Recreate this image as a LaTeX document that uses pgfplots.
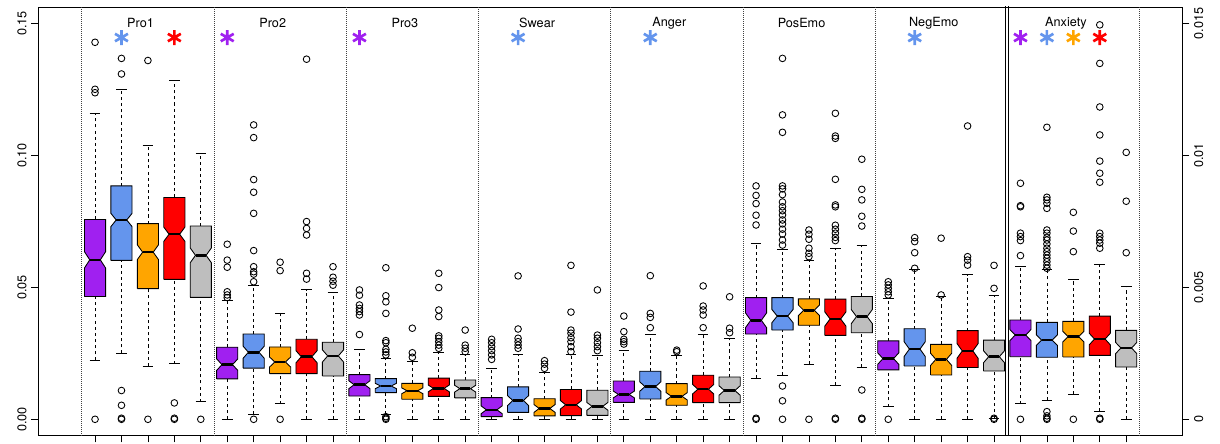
\documentclass[border=0pt]{standalone}
\usepackage{fontspec}
\setmainfont{TeX Gyre Heros}
\usepackage{pgfplots}
\pgfplotsset{compat=1.18}
\definecolor{cpur}{HTML}{A020F0}
\definecolor{cblu}{HTML}{6495ED}
\definecolor{cora}{HTML}{FFA500}
\definecolor{cred}{HTML}{FF0000}
\definecolor{cgry}{HTML}{BEBEBE}
\pgfplotsset{
  whisk/.style={black, solid, dash pattern=on 2.3pt off 2.3pt, line width=0.6pt, mark=none},
  cap/.style={black, solid, line width=0.65pt, mark=none},
  boxs/.style={draw=black, solid, line width=0.65pt, mark=none},
  med/.style={black, solid, line width=1.9pt, mark=none},
  outl/.style={only marks, mark=o, mark size=2.5pt, mark options={black, solid, line width=0.65pt}},
  sep/.style={black!75, densely dotted, line width=0.5pt, mark=none},
  star/.style={only marks, mark=asterisk, mark size=5.6pt, mark options={#1, solid, line width=2pt}},
}
% \nbox{position}{colour}{lower whisker}{q1}{median}{q3}{upper whisker}{notch half-height}{outliers}
\newcommand{\nbox}[9]{%
  \pgfmathsetmacro\xa{#1-0.4}%
  \pgfmathsetmacro\xb{#1+0.4}%
  \pgfmathsetmacro\xc{#1-0.2}%
  \pgfmathsetmacro\xd{#1+0.2}%
  \pgfmathsetmacro\ya{#5-#8}%
  \pgfmathsetmacro\yb{#5+#8}%
  \addplot[whisk] coordinates {(#1,#6) (#1,#7)};
  \addplot[whisk] coordinates {(#1,#3) (#1,#4)};
  \addplot[cap] coordinates {(\xc,#7) (\xd,#7)};
  \addplot[cap] coordinates {(\xc,#3) (\xd,#3)};
  \addplot[boxs, fill=#2] coordinates {(\xa,#4) (\xb,#4) (\xb,\ya) (\xd,#5) (\xb,\yb) (\xb,#6) (\xa,#6) (\xa,\yb) (\xc,#5) (\xa,\ya) (\xa,#4)};
  \addplot[med] coordinates {(\xc,#5) (\xd,#5)};
  \addplot[outl] table[x expr=#1, y index=0, row sep=\\] {#9};
}
\begin{document}
\begin{tikzpicture}
\begin{axis}[
  scale only axis, width=857.6pt, height=321pt,
  xmin=-1.137, xmax=42.11, ymin=-0.00595, ymax=0.15617,
  xtick={1,...,40}, xticklabels={}, xtick pos=left,
  ytick={0,0.05,0.10,0.15}, yticklabels={0.00,0.05,0.10,0.15}, ytick pos=left,
  scaled y ticks=false,
  tick align=outside, major tick length=5.5pt,
  tick style={black, line width=0.6pt},
  axis line style={black, line width=0.7pt},
  yticklabel style={rotate=90, anchor=south, font=\fontsize{9.5}{11}\selectfont},
]
\coordinate (SW) at (rel axis cs:0,0);
\coordinate (NE) at (rel axis cs:1,1);
% separators
\pgfplotsinvokeforeach{0.5,5.5,10.5,15.5,20.5,25.5,30.5,40.5}{\addplot[sep] coordinates {(#1,-0.01) (#1,0.16)};}
\addplot[black, line width=0.5pt, mark=none] coordinates {(35.44,-0.01) (35.44,0.16)};
\addplot[black, line width=0.5pt, mark=none] coordinates {(35.56,-0.01) (35.56,0.16)};
% Pro1
\nbox{1}{cpur}{0.0223}{0.0465}{0.0604}{0.0757}{0.1159}{0.0031}{0.1428\\0.1250\\0.1237\\0\\}
\nbox{2}{cblu}{0.0249}{0.0602}{0.0755}{0.0884}{0.1251}{0.0025}{0.1367\\0.1308\\0.0109\\0.0053\\0\\0.0004\\}
\nbox{3}{cora}{0.0202}{0.0495}{0.0633}{0.0741}{0.1038}{0.0028}{0.1359\\0\\}
\nbox{4}{cred}{0.0211}{0.0530}{0.0701}{0.0840}{0.1285}{0.0027}{0.0062\\0\\0.0004\\}
\nbox{5}{cgry}{0.0066}{0.0462}{0.0621}{0.0732}{0.1006}{0.0028}{0\\}
% Pro2
\nbox{6}{cpur}{0}{0.0153}{0.0207}{0.0273}{0.0452}{0.0022}{0.0663\\0.0603\\0.0576\\0.0483\\0.0471\\0.0461\\}
\nbox{7}{cblu}{0.0018}{0.0194}{0.0254}{0.0323}{0.0508}{0.0023}{0.1115\\0.1067\\0.0908\\0.0860\\0.0780\\0.0639\\0.0578\\0.0559\\0.0550\\0.0521\\0\\}
\nbox{8}{cora}{0.0059}{0.0173}{0.0217}{0.0274}{0.0401}{0.0019}{0.0595\\0.0563\\0\\}
\nbox{9}{cred}{0}{0.0173}{0.0237}{0.0303}{0.0490}{0.0023}{0.1364\\0.0749\\0.0723\\0.0698\\0.0553\\0.0531\\}
\nbox{10}{cgry}{0}{0.0164}{0.0240}{0.0292}{0.0482}{0.0023}{0.0578\\0.0538\\0.0523\\0.0508\\}
% Pro3
\nbox{11}{cpur}{0}{0.0088}{0.0131}{0.0169}{0.0265}{0.0015}{0.0490\\0.0470\\0.0433\\0.0420\\0.0408\\0.0395\\0.0321\\}
\nbox{12}{cblu}{0.0020}{0.0101}{0.0126}{0.0154}{0.0230}{0.0010}{0.0574\\0.0468\\0.0445\\0.0401\\0.0298\\0.0290\\0.0265\\0.0255\\0.0244\\0.0010\\0.0004\\0\\}
\nbox{13}{cora}{0}{0.0076}{0.0108}{0.0136}{0.0221}{0.0011}{0.0345\\0.0252\\0.0235\\}
\nbox{14}{cred}{0}{0.0087}{0.0117}{0.0156}{0.0254}{0.0013}{0.0553\\0.0499\\0.0414\\0.0389\\0.0316\\0.0307\\0.0294\\0.0281\\0.0269\\}
\nbox{15}{cgry}{0}{0.0081}{0.0116}{0.0149}{0.0244}{0.0013}{0.0338\\0.0281\\0.0269\\0.0256\\}
% Swear
\nbox{16}{cpur}{0}{0.0010}{0.0036}{0.0082}{0.0191}{0.0015}{0.0303\\0.0290\\0.0275\\0.0260\\0.0244\\0.0227\\}
\nbox{17}{cblu}{0}{0.0026}{0.0071}{0.0123}{0.0246}{0.0019}{0.0543\\0.0342\\0.0307\\0.0294\\0.0281\\0.0269\\}
\nbox{18}{cora}{0}{0.0013}{0.0041}{0.0078}{0.0177}{0.0015}{0.0222\\0.0209\\0.0193\\}
\nbox{19}{cred}{0}{0.0014}{0.0055}{0.0113}{0.0244}{0.0016}{0.0583\\0.0406\\0.0338\\0.0326\\0.0309\\0.0294\\0.0275\\0.0256\\}
\nbox{20}{cgry}{0}{0.0015}{0.0049}{0.0110}{0.0242}{0.0015}{0.0490\\0.0319\\0.0307\\0.0290\\0.0275\\0.0260\\}
% Anger
\nbox{21}{cpur}{0}{0.0064}{0.0094}{0.0145}{0.0262}{0.0013}{0.0391\\0.0332\\0.0303\\0.0294\\0.0285\\}
\nbox{22}{cblu}{0}{0.0077}{0.0124}{0.0182}{0.0322}{0.0018}{0.0544\\0.0401\\0.0386\\0.0347\\}
\nbox{23}{cora}{0}{0.0053}{0.0087}{0.0135}{0.0242}{0.0014}{0.0262\\0.0256\\}
\nbox{24}{cred}{0}{0.0063}{0.0114}{0.0167}{0.0322}{0.0018}{0.0505\\0.0429\\0.0414\\0.0395\\0.0347\\}
\nbox{25}{cgry}{0}{0.0063}{0.0109}{0.0160}{0.0307}{0.0018}{0.0464\\0.0345\\0.0328\\}
% PosEmo
\nbox{26}{cpur}{0.0155}{0.0323}{0.0375}{0.0461}{0.0667}{0.0028}{0.0884\\0.0848\\0.0817\\0.0773\\0.0736\\0\\0.0004\\}
\nbox{27}{cblu}{0.0168}{0.0338}{0.0391}{0.0461}{0.0645}{0.0025}{0.1367\\0.1153\\0.1087\\0.0884\\0.0873\\0.0851\\0.0823\\0.0805\\0.0790\\0.0774\\0.0755\\0.0740\\0.0720\\0.0702\\0.0679\\0.0660\\0.0126\\0.0070\\0\\}
\nbox{28}{cora}{0.0209}{0.0356}{0.0413}{0.0456}{0.0602}{0.0020}{0.0717\\0.0701\\0.0682\\0.0648\\0.0629\\0.0616\\0\\}
\nbox{29}{cred}{0.0129}{0.0318}{0.0380}{0.0455}{0.0648}{0.0027}{0.1159\\0.1073\\0.1064\\0.0909\\0.0812\\0.0805\\0.0735\\0.0720\\0.0705\\0.0689\\0.0677\\0\\0.0004\\}
\nbox{30}{cgry}{0.0197}{0.0328}{0.0389}{0.0465}{0.0657}{0.0027}{0.0985\\0.0871\\0.0831\\0.0769\\0.0732\\0.0111\\0\\0.0004\\}
% NegEmo
\nbox{31}{cpur}{0.0048}{0.0187}{0.0230}{0.0297}{0.0457}{0.0022}{0.0521\\0.0509\\0.0496\\0.0483\\0.0471\\0\\}
\nbox{32}{cblu}{0}{0.0202}{0.0266}{0.0343}{0.0569}{0.0028}{0.0688\\0.0673\\0.0631\\0.0572\\}
\nbox{33}{cora}{0}{0.0168}{0.0227}{0.0284}{0.0467}{0.0023}{0.0686\\0.0471\\}
\nbox{34}{cred}{0}{0.0196}{0.0259}{0.0336}{0.0547}{0.0028}{0.1111\\0.0616\\0.0603\\0.0584\\}
\nbox{35}{cgry}{0.0004}{0.0183}{0.0237}{0.0300}{0.0468}{0.0023}{0.0583\\0.0496\\0\\0.0004\\}
% Anxiety (drawn on the right-hand scale, x10)
\nbox{36}{cpur}{0.0059}{0.0237}{0.0319}{0.0376}{0.0580}{0.0021}{0.0894\\0.0809\\0.0805\\0.0705\\0.0692\\0.0677\\0.0620\\0\\}
\nbox{37}{cblu}{0.0073}{0.0235}{0.0300}{0.0367}{0.0567}{0.0020}{0.1106\\0.0841\\0.0831\\0.0818\\0.0799\\0.0717\\0.0705\\0.0689\\0.0679\\0.0664\\0.0648\\0.0635\\0.0622\\0.0610\\0.0597\\0.0584\\0.0572\\0.0029\\0.0013\\0\\0.0004\\}
\nbox{38}{cora}{0.0096}{0.0236}{0.0313}{0.0371}{0.0528}{0.0020}{0.0784\\0.0713\\0.0635\\0\\}
\nbox{39}{cred}{0.0030}{0.0242}{0.0304}{0.0391}{0.0587}{0.0022}{0.1494\\0.1348\\0.1183\\0.1077\\0.0978\\0.0932\\0.0898\\0.0705\\0.0692\\0.0679\\0.0667\\0.0648\\0\\0.0004\\}
\nbox{40}{cgry}{0}{0.0198}{0.0270}{0.0337}{0.0505}{0.0021}{0.1011\\0.0826\\0.0631\\}
% significance stars
\addplot[star=cblu] coordinates {(2,0.1446) (17,0.1446) (22,0.1446) (32,0.1446) (37,0.1446)};
\addplot[star=cred] coordinates {(4,0.1446) (39,0.1446)};
\addplot[star=cpur] coordinates {(6,0.1446) (11,0.1446) (36,0.1446)};
\addplot[star=cora] coordinates {(38,0.1446)};
% group labels
\begin{scope}[every node/.style={font=\fontsize{9.5}{11}\selectfont, inner sep=0pt}]
\node at (axis cs:2.72,0.1500) {Pro1};
\node at (axis cs:7.72,0.1500) {Pro2};
\node at (axis cs:12.72,0.1500) {Pro3};
\node at (axis cs:17.72,0.1500) {Swear};
\node at (axis cs:22.72,0.1500) {Anger};
\node at (axis cs:27.72,0.1500) {PosEmo};
\node at (axis cs:32.72,0.1500) {NegEmo};
\node at (axis cs:37.72,0.1500) {Anxiety};
\end{scope}
\end{axis}
\begin{axis}[
  scale only axis, width=857.6pt, height=321pt,
  xmin=-1.137, xmax=42.11, ymin=-0.000595, ymax=0.015617,
  axis x line=none, axis y line*=right,
  ytick={0,0.005,0.01,0.015}, yticklabels={0,0.005,0.01,0.015},
  scaled y ticks=false,
  tick align=outside, major tick length=5.5pt,
  tick style={black, line width=0.6pt},
  axis line style={black, line width=0.7pt},
  yticklabel style={rotate=90, anchor=north, font=\fontsize{9.5}{11}\selectfont},
]
\addplot[draw=none, mark=none] coordinates {(0,0)};
\end{axis}
\pgfresetboundingbox
\path[use as bounding box] ([xshift=-28.9pt,yshift=-6pt]SW) rectangle ([xshift=28.5pt,yshift=5.25pt]NE);
\end{tikzpicture}
\end{document}
